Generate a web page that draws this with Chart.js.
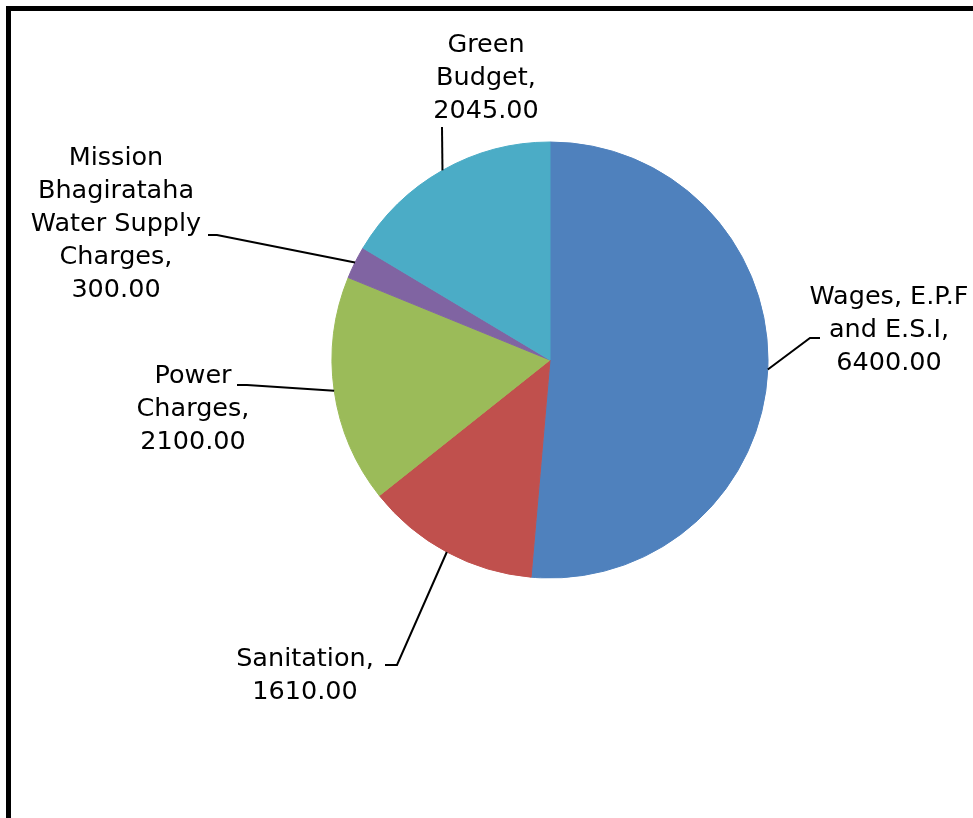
<!DOCTYPE html>
<html>
<head>
<meta charset="utf-8">
<script src="https://cdn.jsdelivr.net/npm/chart.js@4/dist/chart.umd.min.js"></script>
<style>
  html, body { margin: 0; padding: 0; background: #fff; }
  canvas { display: block; }
</style>
</head>
<body>
<canvas id="myChart" width="973" height="818"></canvas>
<script>
// expenditure heads and amounts
const categories = [
  "Wages, E.P.F and E.S.I",
  "Sanitation",
  "Power Charges",
  "Mission Bhagirataha Water Supply Charges",
  "Green Budget"
];
const amounts = [6400, 1610, 2100, 300, 2045];
const colors = ["#4F81BD", "#C0504D", "#9BBB59", "#8064A2", "#4BACC6"];

// how each name is wrapped in its label (the amount goes on the last line)
const labelLines = [
  ["Wages, E.P.F", "and E.S.I,"],
  ["Sanitation,"],
  ["Power", "Charges,"],
  ["Mission", "Bhagirataha", "Water Supply", "Charges,"],
  ["Green", "Budget,"]
];

// label placement: text centre x, first line y, leader elbow and end
const labelPos = [
  { x: 889, y: 297, elbow: [810, 338], end: [820, 338] },
  { x: 305, y: 659, elbow: [397, 665], end: [385, 665] },
  { x: 193, y: 376, elbow: [247, 385], end: [237, 385] },
  { x: 116, y: 158, elbow: [217, 235], end: [208, 235] },
  { x: 486, y: 45, elbow: [442, 127], end: [442, 127] }
];
const lineHeight = 33;

const frame = {
  id: "frame",
  beforeDraw(chart) {
    const ctx = chart.ctx;
    ctx.save();
    ctx.fillStyle = "#000";
    ctx.fillRect(6, 6, chart.width - 6, 5);
    ctx.fillRect(6, 6, 5, chart.height - 6);
    ctx.restore();
  }
};

const leaderLabels = {
  id: "leaderLabels",
  afterDatasetsDraw(chart) {
    const ctx = chart.ctx;
    const meta = chart.getDatasetMeta(0);
    ctx.save();
    ctx.strokeStyle = "#000";
    ctx.lineWidth = 2;
    ctx.fillStyle = "#000";
    ctx.font = "25.5px 'DejaVu Sans'";
    ctx.textAlign = "center";
    ctx.textBaseline = "middle";
    meta.data.forEach((arc, i) => {
      const p = arc.getProps(["x", "y", "startAngle", "endAngle", "outerRadius"], true);
      const mid = (p.startAngle + p.endAngle) / 2;
      const sx = p.x + Math.cos(mid) * p.outerRadius;
      const sy = p.y + Math.sin(mid) * p.outerRadius;
      const pos = labelPos[i];
      ctx.beginPath();
      ctx.moveTo(sx, sy);
      ctx.lineTo(pos.elbow[0], pos.elbow[1]);
      ctx.lineTo(pos.end[0], pos.end[1]);
      ctx.stroke();
      const lines = labelLines[i].concat([amounts[i].toFixed(2)]);
      lines.forEach((t, k) => {
        ctx.fillText(t, pos.x, pos.y + k * lineHeight);
      });
    });
    ctx.restore();
  }
};

new Chart(document.getElementById("myChart"), {
  type: "pie",
  data: {
    labels: categories,
    datasets: [{
      data: amounts,
      backgroundColor: colors,
      borderColor: colors,
      borderWidth: 1
    }]
  },
  options: {
    responsive: false,
    animation: false,
    devicePixelRatio: 1,
    radius: 218,
    layout: { padding: { left: 127, right: 0, top: 0, bottom: 98 } },
    plugins: {
      legend: { display: false },
      tooltip: { enabled: false }
    }
  },
  plugins: [frame, leaderLabels]
});
</script>
</body>
</html>
